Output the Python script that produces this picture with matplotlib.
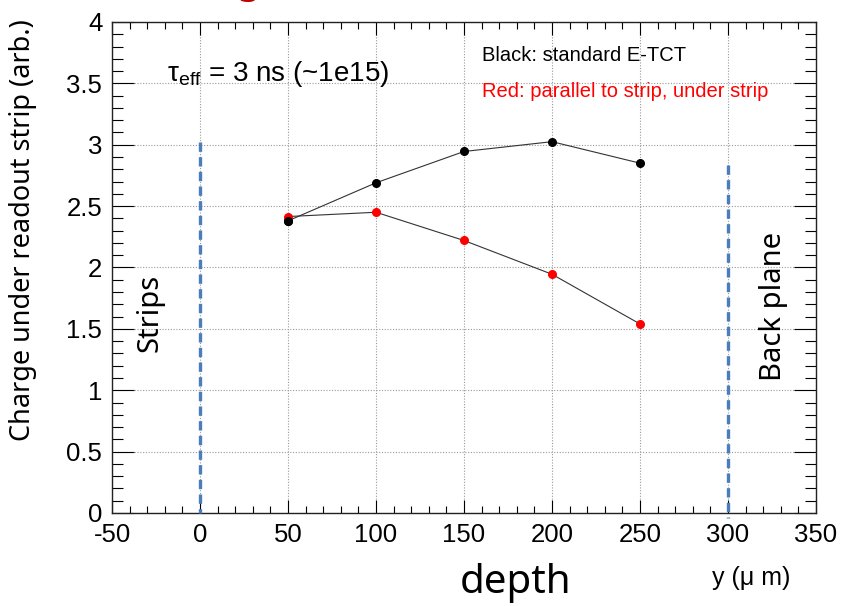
import numpy as np
import matplotlib
matplotlib.use("Agg")
import matplotlib.pyplot as plt
from matplotlib.ticker import MultipleLocator

# depth positions (um) and collected charge (arb.)
depth = [50, 100, 150, 200, 250]
charge_standard = [2.38, 2.69, 2.945, 3.025, 2.85]   # black: standard E-TCT
charge_parallel = [2.415, 2.45, 2.22, 1.945, 1.54]   # red: parallel to strip
strip_edge = 0
back_edge = 300

label_font = "Liberation Sans"
slide_font = "Noto Sans"

plt.rcParams["mathtext.fontset"] = "custom"
plt.rcParams["mathtext.rm"] = label_font
plt.rcParams["mathtext.it"] = label_font + ":italic"

fig = plt.figure(figsize=(8.43, 6.06), dpi=100)
ax = fig.add_axes([0.1329, 0.1535, 0.835, 0.8102])

ax.set_xlim(-50, 350)
ax.set_ylim(0, 4)
ax.xaxis.set_major_locator(MultipleLocator(50))
ax.xaxis.set_minor_locator(MultipleLocator(10))
ax.yaxis.set_major_locator(MultipleLocator(0.5))
ax.yaxis.set_minor_locator(MultipleLocator(0.1))

# ROOT style: ticks inside on all four sides
ax.tick_params(axis="x", which="major", direction="in", length=9.5, width=0.8,
               top=True, bottom=True, pad=7, labelsize=18.5)
ax.tick_params(axis="x", which="minor", direction="in", length=5, width=0.8,
               top=True, bottom=True)
ax.tick_params(axis="y", which="major", direction="in", length=16, width=0.8,
               left=True, right=True, pad=7, labelsize=18.5)
ax.tick_params(axis="y", which="minor", direction="in", length=8, width=0.8,
               left=True, right=True)
ax.set_xticks(ax.get_xticks())
ax.set_yticks(ax.get_yticks())
ax.set_xticklabels([f"{int(v)}" for v in ax.get_xticks()])
ax.set_yticklabels([f"{v:g}" for v in ax.get_yticks()])
for lab in ax.get_xticklabels() + ax.get_yticklabels():
    lab.set_fontfamily(label_font)
    lab.set_fontsize(18.5)
ax.set_xlim(-50, 350)
ax.set_ylim(0, 4)

for sp in ax.spines.values():
    sp.set_linewidth(1.0)
    sp.set_color("#222222")

ax.grid(True, which="major", color="#9a9a9a", linestyle=(0, (1, 1.5)), linewidth=0.8)
ax.set_axisbelow(True)

ax.plot(depth, charge_standard, color="#333333", lw=0.8, marker="o",
        markersize=5.5, markerfacecolor="black", markeredgecolor="black", zorder=3)
ax.plot(depth, charge_parallel, color="#333333", lw=0.8, marker="o",
        markersize=5.5, markerfacecolor="#ff0000", markeredgecolor="#ff0000", zorder=3)
# the black first point sits on top of the red one
ax.plot(depth[:1], charge_standard[:1], "o", color="black", markersize=5.5, zorder=4)

# detector boundaries drawn by hand on the slide
blue = "#4a7ebb"
ax.plot([strip_edge, strip_edge], [3.02, 0.0], color=blue, lw=2.4,
        linestyle=(0, (2.8, 1.6)), clip_on=False, zorder=5)
ax.plot([back_edge, back_edge], [2.835, -0.04], color=blue, lw=2.4,
        linestyle=(0, (2.8, 1.6)), clip_on=False, zorder=5)

ax.text(-18.5, 3.58, r"$\mathrm{τ}_{\mathrm{eff}}$ = 3 ns (~1e15)", fontsize=20,
        family=label_font, va="center", ha="left")
ax.text(160, 3.73, "Black: standard E-TCT", fontsize=14.5, family=label_font,
        va="center", ha="left", color="black")
ax.text(160, 3.43, "Red: parallel to strip, under strip", fontsize=14.5,
        family=label_font, va="center", ha="left", color="#ff0000")

ax.text(-28.5, 1.63, "Strips", rotation=90, fontsize=21, family=slide_font,
        va="center", ha="center")
ax.text(326, 1.68, "Back plane", rotation=90, fontsize=21, family=slide_font,
        va="center", ha="center")

ax.set_ylabel("Charge under readout strip (arb.)", fontsize=19.5, family=slide_font)
ax.yaxis.set_label_coords(-0.106, 0.576)

fig.text(0.938, 0.046, "y (μ m)", fontsize=18, family=label_font,
         ha="right", va="center")
fig.text(0.611, 0.038, "depth", fontsize=29, family=slide_font,
         ha="center", va="center")
# bit of the slide title showing above the plot
fig.text(0.295, 1.012, "g", fontsize=28, family=slide_font, color="#c00000",
         ha="center", va="baseline")

fig.savefig("out.png", dpi=100)
